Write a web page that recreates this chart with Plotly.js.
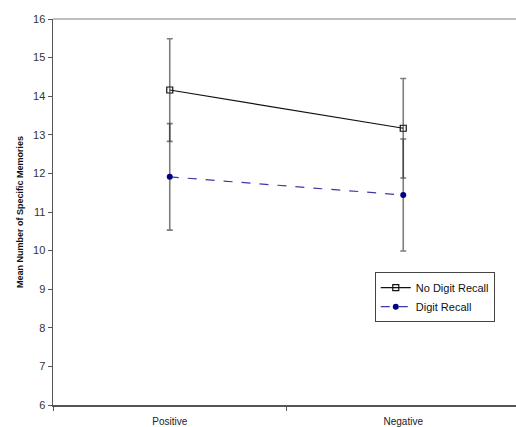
<!DOCTYPE html>
<html>
<head>
<meta charset="utf-8">
<script src="https://cdn.plot.ly/plotly-3.0.1.min.js"></script>
<style>
  html, body { margin: 0; padding: 0; overflow: hidden; background: #fff; }
  #chart { width: 520px; height: 427px; }
</style>
</head>
<body>
<div id="chart"></div>
<script>
// Mood condition on the x axis
const conditions = ["Positive", "Negative"];

// Mean number of specific memories and error bar half-widths
const noDigitMeans = [14.16, 13.17];
const noDigitErr = [1.33, 1.29];
const digitMeans = [11.91, 11.44];
const digitErr = [1.38, 1.45];

const yTicks = [6, 7, 8, 9, 10, 11, 12, 13, 14, 15, 16];

const errStyle = {
  type: "data",
  visible: true,
  color: "rgba(40,40,40,0.6)",
  thickness: 1.6,
  width: 3
};

const traces = [
  {
    x: conditions,
    y: noDigitMeans,
    name: "No Digit Recall",
    type: "scatter",
    mode: "lines+markers",
    line: { color: "#111", width: 1.2 },
    marker: { symbol: "square-open", size: 6, color: "#111", line: { width: 1.2 } },
    error_y: Object.assign({ array: noDigitErr }, errStyle)
  },
  {
    x: conditions,
    y: digitMeans,
    name: "Digit Recall",
    type: "scatter",
    mode: "lines+markers",
    line: { color: "#3a3aa8", width: 1.2, dash: "dash" },
    marker: { symbol: "circle", size: 6, color: "#000080" },
    error_y: Object.assign({ array: digitErr }, errStyle)
  }
];

const layout = {
  width: 520,
  height: 427,
  margin: { l: 53, r: 0, t: 19, b: 22 },
  paper_bgcolor: "#fff",
  plot_bgcolor: "#fff",
  font: { family: "Arial, Liberation Sans, sans-serif", color: "#333" },
  showlegend: true,
  legend: {
    x: 0.689, y: 0.344, xanchor: "left", yanchor: "top",
    bgcolor: "#fff", bordercolor: "#444", borderwidth: 1,
    font: { size: 11, color: "#111" },
    tracegroupgap: 0,
    itemwidth: 30
  },
  xaxis: {
    type: "category",
    range: [-0.5, 1.5],
    tickson: "boundaries",
    ticks: "outside",
    ticklen: 4,
    tickcolor: "#555",
    showline: true,
    linecolor: "#555",
    linewidth: 1.5,
    showgrid: false,
    zeroline: false,
    automargin: false,
    tickfont: { size: 10, color: "#222" },
    ticklabelstandoff: 6
  },
  yaxis: {
    range: [6, 16],
    tickvals: yTicks,
    ticktext: yTicks.map(String),
    ticks: "outside",
    ticklen: 4,
    tickcolor: "#555",
    showline: true,
    linecolor: "#555",
    linewidth: 1.5,
    showgrid: false,
    zeroline: false,
    automargin: false,
    tickfont: { size: 11, color: "#333" },
    title: {
      text: "Mean Number of Specific Memories",
      font: { size: 9, color: "#111", weight: "bold" },
      standoff: 8
    }
  },
  shapes: [
    {
      type: "line", xref: "paper", yref: "paper",
      x0: 0, x1: 1, y0: 1, y1: 1,
      line: { color: "#a8a8a8", width: 1.5 }
    }
  ]
};

Plotly.newPlot("chart", traces, layout, { displayModeBar: false, staticPlot: true });
</script>
</body>
</html>
